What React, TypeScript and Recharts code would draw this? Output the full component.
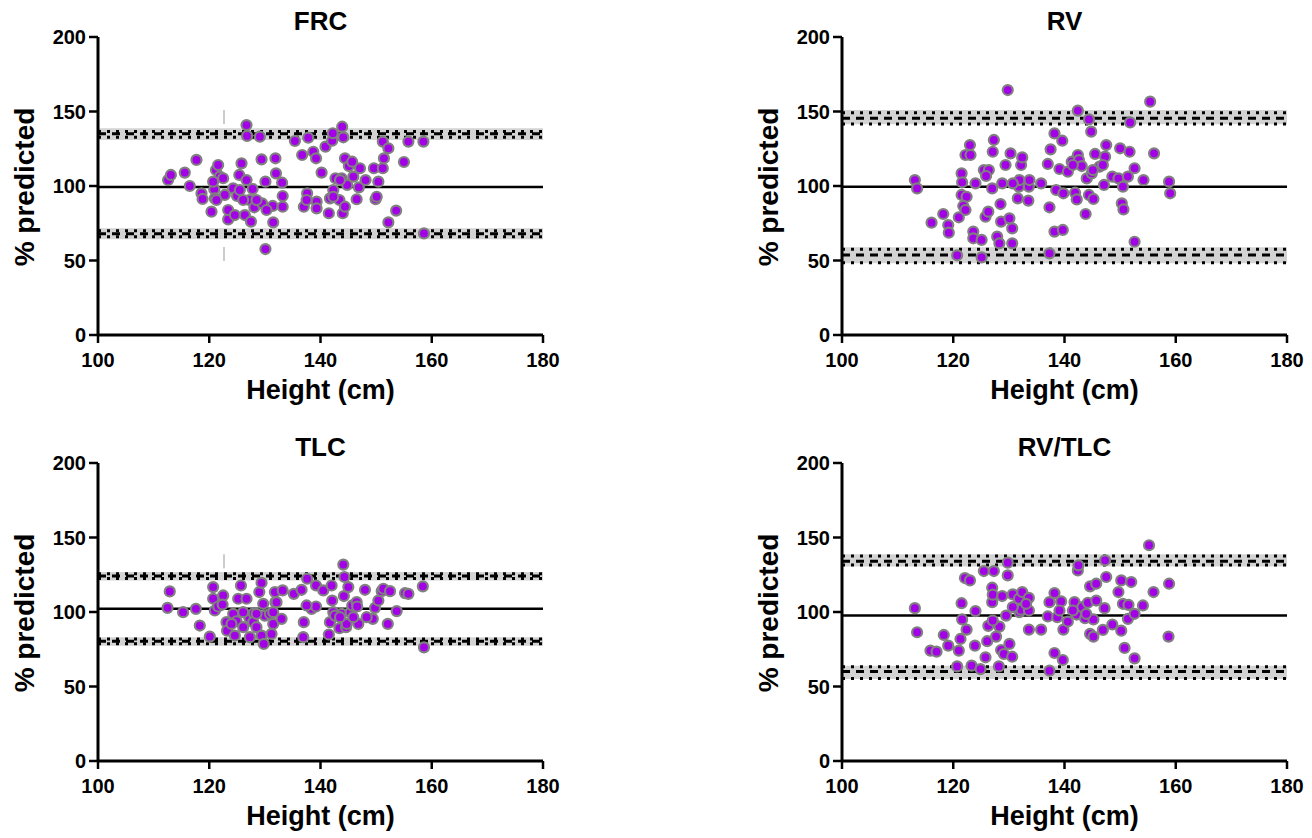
import React from 'react'
import { ScatterChart, Scatter, XAxis, YAxis, ReferenceArea, ReferenceLine, Label } from 'recharts'

const FONT = '"Liberation Sans", Arial, Helvetica, sans-serif'
const X_TICKS = [100, 120, 140, 160, 180]
const Y_TICKS = [0, 50, 100, 150, 200]

// FRC
const frcHeight = [112.6, 113.1, 115.6, 116.5, 117.7, 118.6, 118.8, 120.4, 120.9, 121.0, 121.2, 121.6, 121.9, 122.5, 122.8, 123.4, 123.4, 124.3, 124.6, 125.0, 125.4, 125.8, 126.4, 126.7, 126.7, 126.8, 127.2, 127.5, 127.8, 128.1, 129.1, 129.4, 129.5, 130.1, 130.1, 131.4, 131.5, 131.9, 132.0, 133.1, 133.2, 133.2, 135.4, 136.7, 137.0, 137.6, 137.8, 138.7, 139.2, 139.3, 139.3, 140.2, 140.9, 141.5, 141.7, 142.1, 142.2, 142.3, 142.7, 143.4, 143.8, 143.9, 144.1, 144.0, 144.4, 144.4, 144.8, 145.1, 145.7, 146.5, 146.9, 147.1, 148.1, 149.6, 149.9, 150.4, 151.2, 151.2, 151.4, 152.2, 152.2, 153.6, 155.0, 155.8, 158.5, 158.6, 120.7, 121.3, 125.5, 126.1, 128.5, 130.3, 137.5, 142.3, 143.5, 145.9, 150.1]
const frcValue = [104.0, 107.4, 109.0, 100.0, 117.5, 95.1, 91.3, 82.8, 97.8, 91.7, 110.7, 114.1, 106.3, 105.2, 94.0, 77.6, 83.9, 98.4, 80.5, 93.3, 107.4, 115.2, 80.5, 104.0, 140.9, 133.6, 90.6, 76.1, 98.0, 85.7, 133.1, 117.9, 88.4, 102.9, 57.7, 86.6, 75.6, 118.6, 108.5, 102.2, 93.3, 86.1, 130.2, 120.8, 86.1, 95.1, 132.4, 123.0, 118.6, 89.5, 85.0, 109.0, 126.4, 81.7, 91.7, 130.4, 135.4, 97.3, 105.2, 90.6, 105.2, 139.8, 132.7, 81.7, 118.6, 86.1, 100.7, 113.4, 116.3, 91.1, 99.1, 111.9, 104.0, 111.9, 91.1, 102.9, 129.8, 111.9, 118.6, 125.3, 75.6, 83.5, 116.1, 129.8, 129.8, 68.2, 102.9, 90.6, 97.3, 90.6, 90.6, 83.9, 90.6, 92.8, 104.0, 106.3, 92.8]
const frcMean = 99.3
// band low, dotted low, limit, dotted high, band high
const frcUpper = [130.9, 132.7, 135.0, 136.6, 138.8]
const frcLower = [64.2, 66.0, 68.0, 70.0, 71.7]
const frcMarker = [122.65, 151, 48.5]

// RV
const rvHeight = [113.1, 113.5, 116.1, 118.2, 119.1, 119.2, 120.7, 121.0, 121.5, 121.6, 121.5, 122.4, 121.8, 122.2, 122.2, 123.0, 123.1, 123.6, 123.6, 124.0, 125.1, 125.1, 125.5, 125.8, 126.4, 126.3, 127.0, 127.1, 127.3, 127.9, 128.3, 128.5, 128.6, 128.8, 129.4, 129.8, 130.1, 130.3, 130.6, 130.6, 131.6, 131.8, 131.9, 132.2, 132.4, 133.5, 133.6, 133.7, 135.8, 137.0, 137.3, 137.3, 137.5, 138.2, 138.2, 138.5, 139.1, 139.6, 139.7, 139.8, 140.6, 141.3, 141.9, 142.2, 142.4, 142.4, 142.6, 143.1, 143.8, 144.0, 144.4, 144.4, 144.8, 144.9, 145.2, 145.5, 146.3, 147.1, 147.3, 147.5, 148.6, 149.7, 150.0, 150.3, 150.6, 150.5, 151.4, 151.7, 151.8, 152.6, 152.6, 154.2, 155.4, 156.1, 158.8, 159.0, 125.9, 130.7, 141.5, 146.9, 145.1]
const rvValue = [104.0, 98.4, 75.4, 81.2, 73.8, 68.7, 53.5, 79.0, 108.5, 102.5, 94.0, 92.8, 86.6, 83.9, 120.8, 127.5, 120.8, 69.4, 64.9, 101.8, 63.8, 52.1, 110.7, 79.4, 110.7, 82.8, 98.4, 123.0, 130.9, 66.0, 61.5, 87.9, 76.1, 101.8, 114.1, 164.4, 78.3, 121.9, 71.6, 61.5, 91.7, 99.6, 104.0, 114.1, 119.2, 90.2, 99.6, 104.0, 101.8, 114.8, 85.7, 54.8, 124.6, 135.3, 69.4, 97.3, 111.4, 130.4, 70.5, 95.1, 109.6, 116.3, 95.5, 91.0, 120.8, 150.6, 117.4, 113.4, 81.2, 105.1, 144.7, 94.0, 136.5, 108.5, 91.3, 121.5, 113.0, 100.7, 119.7, 127.5, 106.3, 105.1, 125.3, 88.4, 84.3, 99.6, 106.3, 123.0, 142.7, 62.6, 111.9, 104.0, 156.6, 121.9, 102.9, 95.1, 106.7, 101.8, 114.1, 114.1, 110.7]
const rvMean = 99.5
const rvUpper = [141.5, 141.6, 145.4, 149.2, 151.0]
const rvLower = [48.1, 48.5, 53.7, 57.5, 58.9]

// TLC
const tlcHeight = [112.5, 112.9, 115.3, 117.6, 118.3, 120.1, 120.7, 120.7, 121.0, 121.6, 122.5, 122.4, 123.1, 123.2, 124.3, 124.6, 124.9, 125.2, 125.7, 126.1, 126.7, 127.2, 127.3, 128.0, 127.9, 128.5, 129.0, 129.4, 129.4, 129.7, 129.8, 130.0, 131.2, 131.5, 131.8, 131.9, 133.0, 133.2, 135.2, 136.6, 137.0, 136.9, 137.6, 138.4, 139.2, 139.2, 140.5, 141.5, 141.7, 142.0, 142.1, 142.3, 143.4, 143.8, 144.1, 144.3, 144.2, 144.6, 144.7, 145.0, 145.4, 145.7, 146.5, 146.6, 146.8, 148.0, 149.4, 149.8, 150.4, 151.0, 151.3, 152.1, 152.5, 153.7, 155.2, 155.8, 158.4, 158.6, 124.0, 126.1, 128.5, 130.9, 131.5, 142.6, 143.5, 145.9, 148.3, 137.5, 132.1]
const tlcValue = [102.8, 113.8, 99.9, 102.1, 90.9, 83.5, 116.7, 108.9, 101.0, 103.7, 111.1, 105.0, 93.2, 87.5, 98.8, 84.2, 93.8, 108.9, 117.8, 89.8, 108.9, 96.1, 83.1, 99.2, 93.2, 89.8, 113.4, 119.6, 84.2, 105.5, 78.6, 97.6, 85.3, 92.0, 113.4, 106.6, 95.4, 114.5, 112.2, 114.9, 93.2, 83.1, 122.3, 102.1, 103.7, 117.8, 114.5, 84.9, 93.2, 117.8, 107.7, 99.9, 89.1, 98.8, 131.8, 123.5, 110.7, 89.8, 92.0, 116.7, 99.9, 104.4, 106.6, 103.7, 92.0, 114.9, 95.4, 102.8, 107.7, 114.0, 115.6, 92.0, 114.0, 100.6, 112.7, 112.2, 117.2, 76.3, 92.0, 99.9, 98.8, 98.8, 99.9, 97.6, 96.5, 96.5, 96.5, 104.4, 106.6]
const tlcMean = 102.1
const tlcUpper = [121.2, 122.4, 124.1, 125.7, 126.8]
const tlcLower = [77.4, 78.7, 80.3, 81.9, 83.0]
const tlcMarker = [122.65, 138.7, 55.9]

// RV/TLC
const ratioHeight = [113.1, 113.5, 115.9, 117.0, 118.3, 119.1, 120.7, 121.0, 121.3, 121.5, 121.6, 122.1, 122.4, 123.0, 123.3, 123.9, 124.0, 124.9, 125.5, 125.8, 126.1, 126.3, 127.0, 127.0, 127.1, 127.3, 127.7, 128.2, 128.3, 128.6, 128.8, 129.1, 129.5, 129.8, 129.8, 130.1, 130.6, 130.7, 131.8, 131.9, 132.2, 132.4, 133.6, 133.6, 133.6, 135.8, 137.0, 137.3, 137.3, 138.2, 138.2, 138.7, 139.4, 139.7, 139.8, 140.6, 141.8, 142.2, 142.4, 142.5, 143.2, 143.7, 144.2, 144.6, 144.6, 145.2, 145.2, 145.7, 145.7, 146.9, 147.2, 147.3, 147.5, 148.6, 149.7, 150.2, 150.2, 150.5, 150.8, 151.4, 151.5, 152.0, 152.6, 152.6, 154.1, 156.0, 158.8, 158.7, 155.2, 127.1, 130.7, 133.1, 141.5, 143.9, 139.1]
const ratioValue = [102.6, 86.4, 74.1, 73.4, 84.6, 77.4, 63.5, 74.1, 81.9, 105.9, 95.0, 122.8, 88.2, 121.2, 64.0, 77.4, 100.6, 61.7, 127.5, 69.6, 80.4, 90.7, 116.3, 106.6, 111.6, 127.5, 83.5, 63.5, 90.2, 74.5, 110.7, 71.8, 97.6, 133.1, 124.6, 78.6, 70.0, 111.8, 108.9, 99.9, 101.5, 113.4, 109.5, 101.0, 88.2, 88.2, 97.0, 106.6, 60.6, 112.7, 72.5, 96.5, 107.1, 67.8, 88.2, 93.6, 106.6, 98.3, 127.9, 131.3, 103.3, 95.8, 106.2, 117.2, 85.3, 83.5, 95.0, 107.7, 119.0, 88.0, 102.6, 134.7, 123.5, 91.6, 113.4, 87.5, 121.2, 105.5, 75.9, 95.4, 104.8, 120.1, 68.9, 98.8, 104.4, 113.4, 119.0, 83.5, 144.8, 94.3, 103.3, 105.5, 101.0, 98.8, 101.0]
const ratioMean = 97.6
const ratioUpper = [130.6, 131.6, 134.1, 137.6, 138.7]
const ratioLower = [55.0, 55.3, 60.1, 63.3, 64.0]

const W = 560
const H = 410

const renderDot = (p: any) => (
  <circle cx={p.cx} cy={p.cy} r={5} fill="#a300e8" stroke="#808080" strokeWidth={2.2} />
)

function Panel(props: {
  left: number
  top: number
  title: string
  heights: number[]
  values: number[]
  mean: number
  upper: number[]
  lower: number[]
  marker?: number[]
}) {
  const { left, top, title, heights, values, mean, upper, lower, marker } = props
  const data = heights.map((h, i) => ({ x: h, y: values[i] }))
  const bands = [upper, lower]
  return (
    <div style={{ position: 'absolute', left, top, width: W, height: H }}>
      <div
        style={{
          position: 'absolute', left: 98, top: 8, width: 445, textAlign: 'center',
          fontFamily: FONT, fontWeight: 'bold', fontSize: 26, lineHeight: '26px', color: '#000',
        }}
      >
        {title}
      </div>
      <ScatterChart width={W} height={H} margin={{ top: 37, right: 17, bottom: 35, left: 38 }}>
        <XAxis
          type="number" dataKey="x" domain={[100, 180]} ticks={X_TICKS} height={40}
          tickSize={8} tickMargin={10}
          axisLine={{ stroke: '#000', strokeWidth: 3 }}
          tickLine={{ stroke: '#000', strokeWidth: 2.5 }}
          tick={{ fill: '#000', fontSize: 20, fontWeight: 'bold', fontFamily: FONT }}
        >
          <Label value="Height (cm)" position="bottom" offset={5} fill="#000" fontSize={27} fontWeight="bold" fontFamily={FONT} />
        </XAxis>
        <YAxis
          type="number" dataKey="y" domain={[0, 200]} ticks={Y_TICKS} width={60}
          tickSize={9} tickMargin={3}
          axisLine={{ stroke: '#000', strokeWidth: 3 }}
          tickLine={{ stroke: '#000', strokeWidth: 2.5 }}
          tick={{ fill: '#000', fontSize: 20, fontWeight: 'bold', fontFamily: FONT }}
        >
          <Label
            content={() => (
              <text
                x={34} y={187} transform="rotate(-90 34 187)" textAnchor="middle"
                fill="#000" fontSize={28} fontWeight="bold" fontFamily={FONT}
              >
                % predicted
              </text>
            )}
          />
        </YAxis>
        {bands.map((b, i) => (
          <ReferenceArea key={'a' + i} y1={b[0]} y2={b[4]} fill="#d3d3d3" fillOpacity={1} stroke="none" />
        ))}
        {bands.map((b, i) => (
          <ReferenceLine key={'d1' + i} y={b[1]} stroke="#000" strokeWidth={3} strokeDasharray="3 6" />
        ))}
        {bands.map((b, i) => (
          <ReferenceLine key={'d2' + i} y={b[3]} stroke="#000" strokeWidth={3} strokeDasharray="3 6" />
        ))}
        {bands.map((b, i) => (
          <ReferenceLine key={'m' + i} y={b[2]} stroke="#000" strokeWidth={3} strokeDasharray="8 6" />
        ))}
        <ReferenceLine y={mean} stroke="#000" strokeWidth={2.5} />
        {marker && (
          <ReferenceLine
            segment={[{ x: marker[0], y: marker[1] }, { x: marker[0], y: marker[2] }]}
            stroke="#cccccc" strokeWidth={2} strokeDasharray="14 123"
          />
        )}
        <Scatter data={data} isAnimationActive={false} shape={renderDot} />
      </ScatterChart>
    </div>
  )
}

export default function App() {
  return (
    <div style={{ position: 'fixed', left: 0, top: 0, width: 1312, height: 838, background: '#fff' }}>
      <Panel left={0} top={0} title="FRC" heights={frcHeight} values={frcValue} mean={frcMean} upper={frcUpper} lower={frcLower} marker={frcMarker} />
      <Panel left={744} top={0} title="RV" heights={rvHeight} values={rvValue} mean={rvMean} upper={rvUpper} lower={rvLower} />
      <Panel left={0} top={426} title="TLC" heights={tlcHeight} values={tlcValue} mean={tlcMean} upper={tlcUpper} lower={tlcLower} marker={tlcMarker} />
      <Panel left={744} top={426} title="RV/TLC" heights={ratioHeight} values={ratioValue} mean={ratioMean} upper={ratioUpper} lower={ratioLower} />
    </div>
  )
}
